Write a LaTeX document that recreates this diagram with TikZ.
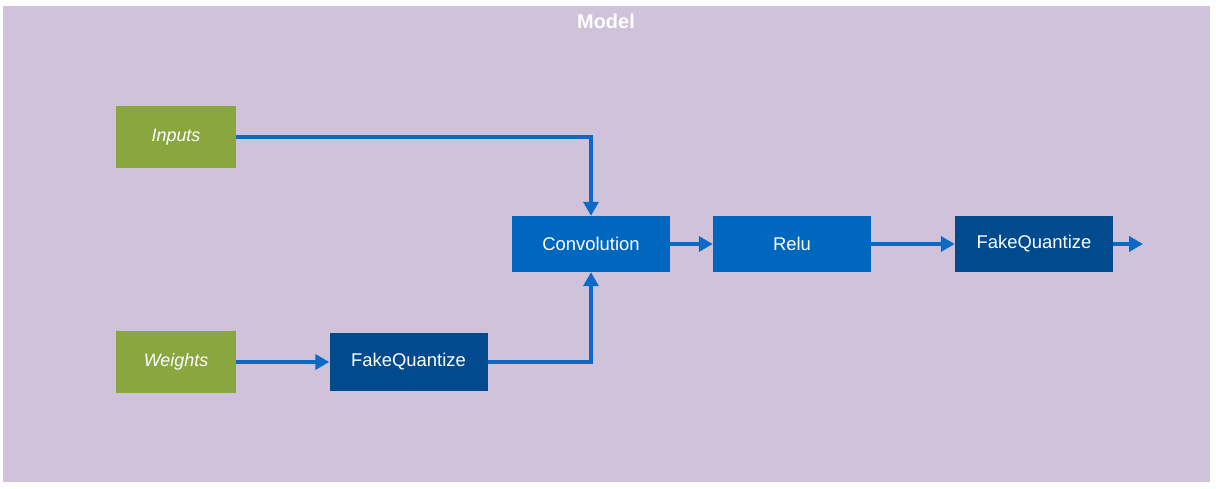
\documentclass[tikz,border=0pt]{standalone}
\usepackage{fontspec}
\setmainfont{Liberation Sans}
\usetikzlibrary{arrows.meta}
\definecolor{bgl}{HTML}{D1C2DB}
\definecolor{grn}{HTML}{8AA63F}
\definecolor{blu}{HTML}{0067BE}
\definecolor{dblu}{HTML}{004A8D}
\definecolor{arr}{HTML}{0A6AC6}
\tikzset{
  box/.style={draw=none, inner sep=0pt, text=white, font=\fontsize{18.5}{20}\selectfont},
  inbox/.style={box, fill=grn, minimum width=120bp, minimum height=62bp, font=\fontsize{18}{20}\selectfont\itshape},
  opbox/.style={box, fill=blu, minimum width=158bp, minimum height=56bp},
  fqbox/.style={box, fill=dblu, minimum width=158bp, minimum height=57bp},
  conn/.style={draw=arr, line width=4bp, -{Triangle[length=14bp,width=15bp]}},
}
\begin{document}
\begin{tikzpicture}[x=1bp,y=-1bp]
\useasboundingbox (0,0) rectangle (1216,489);
\fill[white] (0,0) rectangle (1216,489);
\fill[bgl] (3,6) rectangle (1210,482);
\node[text=white, font=\fontsize{20}{22}\selectfont\bfseries] (title) at (606,21) {Model};
\node[inbox] (inputs) at (176,137) {Inputs};
\node[inbox] (weights) at (176,362) {Weights};
\node[fqbox] (fq1) at (408.5,362) {FakeQuantize};
\node[opbox] (conv) at (591,244) {Convolution};
\node[opbox] (relu) at (792,244) {Relu};
\node[fqbox, minimum height=56bp] (fq2) at (1034,244) {FakeQuantize};
\coordinate (out) at (1143,244);
\draw[conn] (inputs.east) -| (conv.north);
\draw[conn] (weights.east) -- (fq1.west);
\draw[conn] (fq1.east) -| (conv.south);
\draw[conn] (conv.east) -- (relu.west);
\draw[conn] (relu.east) -- (fq2.west);
\draw[conn] (fq2.east) -- (out);
\end{tikzpicture}
\end{document}
